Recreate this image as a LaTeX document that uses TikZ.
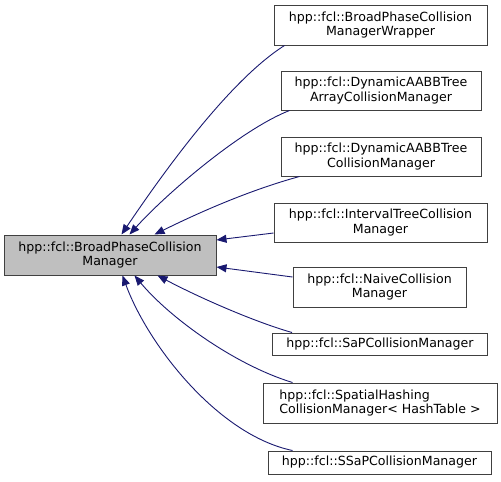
\documentclass[tikz,border=0pt]{standalone}
\usepackage{fontspec}
\setmainfont{DejaVu Sans}
\usetikzlibrary{arrows.meta}
\definecolor{edgeblue}{HTML}{191970}
\definecolor{boxline}{HTML}{404040}
\definecolor{basefill}{HTML}{BFBFBF}
\tikzset{
  cls/.style={draw=boxline, line width=1pt, fill=white, inner sep=0pt, align=center,
    font=\fontsize{12.6}{14.5}\selectfont},
  basecls/.style={cls, fill=basefill},
  inh/.style={draw=edgeblue, line width=0.9pt, {Triangle[length=10pt,width=8pt,fill=edgeblue]}-},
}
\begin{document}
\begin{tikzpicture}[x=1pt,y=-1pt]
\useasboundingbox (0,0) rectangle (501,482);
\node[basecls, minimum width=212pt, minimum height=40pt] (base) at (110,255) {hpp::fcl::BroadPhaseCollision\\Manager};
\node[cls, minimum width=213pt, minimum height=40pt] (n1) at (380.5,25) {hpp::fcl::BroadPhaseCollision\\ManagerWrapper};
\node[cls, minimum width=200pt, minimum height=39pt] (n2) at (381,90.5) {hpp::fcl::DynamicAABBTree\\ArrayCollisionManager};
\node[cls, minimum width=200pt, minimum height=39pt] (n3) at (381,156.5) {hpp::fcl::DynamicAABBTree\\CollisionManager};
\node[cls, minimum width=213pt, minimum height=39pt] (n4) at (380.5,222.5) {hpp::fcl::IntervalTreeCollision\\Manager};
\node[cls, minimum width=173pt, minimum height=40pt] (n5) at (379.5,287) {hpp::fcl::NaiveCollision\\Manager};
\node[cls, minimum width=215pt, minimum height=22pt] (n6) at (380,344) {hpp::fcl::SaPCollisionManager};
\node[cls, minimum width=234pt, minimum height=40pt, align=left] (n7) at (380,403) {hpp::fcl::SpatialHashing\\CollisionManager< HashTable >};
\node[cls, minimum width=223pt, minimum height=23pt] (n8) at (379.5,462.5) {hpp::fcl::SSaPCollisionManager};

\draw[inh] ([xshift=118pt]base.north west) .. controls (165,170) and (230,80) .. ([xshift=11pt]n1.south west);
\draw[inh] ([xshift=126pt]base.north west) .. controls (165,195) and (240,130) .. ([xshift=9pt]n2.south west);
\draw[inh] ([xshift=151pt]base.north west) .. controls (200,212) and (250,190) .. ([xshift=19pt]n3.south west);
\draw[inh] ([yshift=15pt]base.east) -- ([yshift=-10.5pt]n4.west);
\draw[inh] ([yshift=-12pt]base.east) -- ([yshift=10pt]n5.west);
\draw[inh] ([xshift=154pt]base.south west) .. controls (200,298) and (255,322) .. ([xshift=20pt]n6.north west);
\draw[inh] ([xshift=131pt]base.south west) .. controls (170,318) and (235,365) .. ([xshift=30pt]n7.north west);
\draw[inh] ([xshift=119pt]base.south west) .. controls (148,345) and (218,435) .. ([xshift=25pt]n8.north west);
\end{tikzpicture}
\end{document}
